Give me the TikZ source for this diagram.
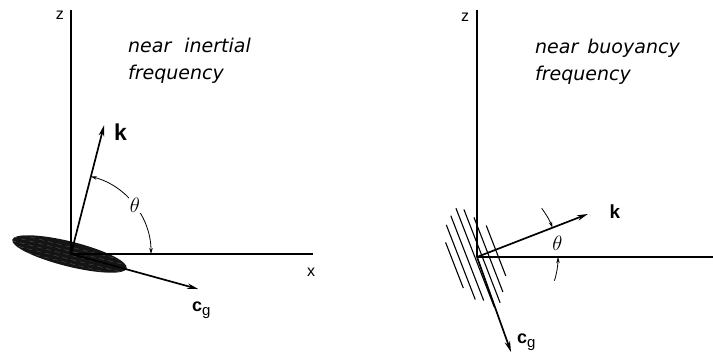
\documentclass[tikz,border=0pt]{standalone}
\usepackage{fontspec}
\newfontfamily\labfont{Liberation Sans}
\newfontfamily\capfont{DejaVu Sans}
\usetikzlibrary{arrows.meta}
\begin{document}
\begin{tikzpicture}[x=1pt,y=1pt,
  axis/.style={line width=1.3pt},
  vec/.style={line width=1.7pt,-{Stealth[length=11pt,width=5.5pt]}},
  angarc/.style={line width=0.8pt},
  tipA/.style={-{Stealth[length=6pt,width=3.5pt]}},
  tipB/.style={{Stealth[length=6pt,width=3.5pt]}-{Stealth[length=6pt,width=3.5pt]}},
  caption/.style={anchor=base west,inner sep=0pt,font=\capfont\itshape\fontsize{19}{25}\selectfont},
  axlabel/.style={inner sep=0pt,font=\labfont\fontsize{16}{18}\selectfont},
  veclabel/.style={inner sep=0pt,font=\labfont\bfseries\fontsize{23}{26}\selectfont},
  cglabel/.style={anchor=base west,inner sep=0pt,font=\labfont\fontsize{18}{20}\selectfont},
  anglabel/.style={inner sep=1pt,font=\fontsize{20}{22}\selectfont},
  hatch/.style={line width=1.1pt}]
\useasboundingbox (0,0) rectangle (713,354);

% ---------------- left panel ----------------
\coordinate (O1) at (71,100);
\coordinate (z1) at (71,344);
\coordinate (x1) at (313,100);
\coordinate (e1) at (69.5,100);

% shaded ellipse
\begin{scope}[shift={(e1)},rotate=-14]
  \fill[black!92] (0,0) ellipse [x radius=59,y radius=12.5];
  \clip (0,0) ellipse [x radius=59,y radius=12.5];
  \foreach \yy in {-9,-5,-1,3,7}
    \draw[white,opacity=0.22,line width=0.5pt,dash pattern=on 5pt off 4pt] (-60,\yy) -- (60,\yy);
\end{scope}

\draw[axis] (O1) -- (z1);
\draw[axis] (O1) -- (x1);
\node[axlabel] (zl1) at (60,339) {z};
\node[axlabel] (xl1) at (311,82) {x};

\draw[vec] (O1) -- ++(75.6:133) coordinate (k1);
\node[veclabel] (kl1) at (120.5,221.5) {k};
\draw[vec] (O1) -- ++(-15.4:132) coordinate (c1);
\node[cglabel] (cl1) at (192,43) {{\bfseries c}\raisebox{-4pt}{\fontsize{15}{18}\selectfont g}};

\draw[angarc,tipB] ([shift={(0:80)}]O1) arc [start angle=0,end angle=75.6,radius=80];
\node[anglabel,fill=white] (th1) at (135,149) {$\theta$};

\node[caption] (t1a) at (128,301) {near\hspace{13pt}inertial};
\node[caption] (t1b) at (128,274) {frequency};

% ---------------- right panel ----------------
\coordinate (O2) at (477,97);
\coordinate (z2) at (477,344);
\coordinate (x2) at (713,97);

\begin{scope}[shift={(O2)},rotate=21.2]
  \draw[hatch] (-24,-24) -- (-24,25);
  \draw[hatch] (-17,-39) -- (-17,41);
  \draw[hatch] (-9.5,-43) -- (-9.5,48);
  \draw[hatch] (-2,-53) -- (-2,53);
  \draw[hatch] (5,-51) -- (5,49);
  \draw[hatch] (11.5,-42) -- (11.5,38);
  \draw[hatch] (20,-28) -- (20,26);
\end{scope}

\draw[axis] (O2) -- (z2);
\draw[axis] (O2) -- (x2);
\node[axlabel] (zl2) at (465,337) {z};

\draw[vec] (O2) -- ++(21.2:119) coordinate (k2);
\node[veclabel,font=\labfont\bfseries\fontsize{19}{22}\selectfont] (kl2) at (615,142) {k};
\draw[vec] (O2) -- ++(-70.3:101) coordinate (c2);
\node[cglabel] (cl2) at (517,11) {{\bfseries c}\raisebox{-4pt}{\fontsize{15}{18}\selectfont g}};

\draw[angarc,tipA] ([shift={(37:81)}]O2) arc [start angle=37,end angle=21.2,radius=81];
\draw[angarc,tipA] ([shift={(-17:81)}]O2) arc [start angle=-17,end angle=0,radius=81];
\node[anglabel] (th2) at (557.5,110.5) {$\theta$};

\node[caption] (t2a) at (535,300) {near\hspace{9pt}buoyancy};
\node[caption] (t2b) at (535,273) {frequency};
\end{tikzpicture}
\end{document}
